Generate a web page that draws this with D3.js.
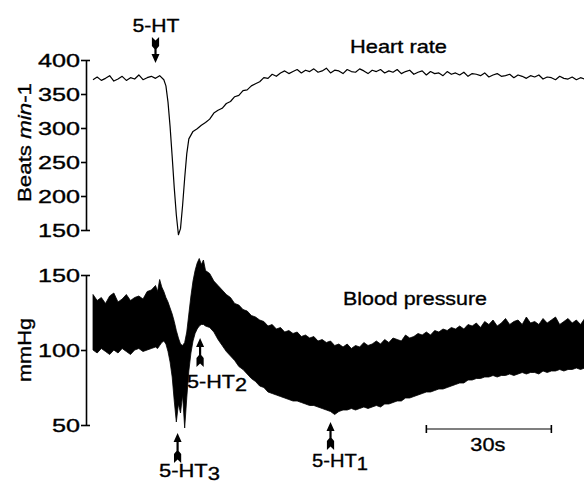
<!DOCTYPE html>
<html>
<head>
<meta charset="utf-8">
<script src="https://cdn.jsdelivr.net/npm/d3@7"></script>
<style>
html,body{margin:0;padding:0;background:#fff;}
svg{display:block;}
svg text{stroke:#000;stroke-width:0.35px;fill:#000;}
</style>
</head>
<body>
<script>
// ---------------- DATA ----------------
// Heart rate trace: [time (s), beats/min]
const heartRate = [
[0,371],[1,375],[2,370],[3,373],[4,377],[5,369],[6,372],[7,376],[8,370],[9,374],[10,372],[11,378],[12,371],[13,374],[14,376],[15,373],[16,377],[17,371],
[17.5,362],[18,338],[18.5,302],[19,258],[19.5,212],[20,172],[20.5,143],[21,152],[21.5,186],[22,226],[22.5,262],[23,284],
[24,295],[25,299],[26,304],[27,308],[28,313],[29,322],[30,326],[31,329],[32,336],[33,339],[34,346],[35,348],[36,355],[37,356],[38,362],[39,365],
[40,368],[41,374],[42,373],[43,379],[44,376],[45,381],[46,384],[47,380],[48,383],[49,386],
[50,381],[51,385],[52,383],[53,387],[54,382],[55,384],[56,388],[57,381],[58,385],[59,384],
[60,380],[61,386],[62,383],[63,382],[64,387],[65,384],[66,380],[67,385],[68,383],[69,386],
[70,381],[71,384],[72,382],[73,386],[74,380],[75,383],[76,385],[77,379],[78,382],[79,384],
[80,378],[81,383],[82,380],[83,381],[84,377],[85,383],[86,379],[87,381],[88,378],[89,382],
[90,376],[91,380],[92,379],[93,377],[94,381],[95,375],[96,378],[97,380],[98,376],[99,377],
[100,379],[101,374],[102,378],[103,376],[104,373],[105,377],[106,375],[107,378],[108,372],[109,375],
[110,374],[111,371],[112,376],[113,373],[114,372],[115,375],[116,371],[117,374],[118,372]
];

// Blood pressure envelope: [time (s), systolic mmHg, diastolic mmHg]
const bloodPressure = [
[0,137,100],[1,133,98],[2,135,101],[3,131,99],[4,136,97],[5,138,100],[6,132,98],[7,134,101],[8,137,99],[9,133,97],
[10,135,100],[11,136,101],[12,134,99],[13,139,100],[14,140,101],[15,143,102],[15.5,139,101],[16,147,103],[16.5,142,105],[17,139,106],
[17.5,135,104],[18,132,99],[18.5,128,92],[19,124,82],[19.5,119,66],[20,113,52],[20.5,108,64],[21,104,58],[21.5,103,70],[22,105,48],
[22.5,112,68],[23,124,86],[23.5,136,98],[24,146,106],[24.5,153,111],[25,158,114],[25.5,161,116],[26,157,117],[26.5,160,117],[27,153,116],
[28,151,115],[29,146,112],[30,143,107],[31,140,103],[32,137,99],[33,135,96],[34,131,93],[35,130,89],[36,127,87],[37,126,84],
[38,123,81],[39,122,79],[40,120,76],[41,119,75],[42,116,72],[43,117,71],[44,114,70],[45,115,69],[46,112,68],[47,113,67],
[48,111,66],[49,112,66],[50,109,65],[51,110,64],[52,108,63],[53,109,63],[54,106,62],[55,107,61],[56,105,60],[57,106,59],
[58,103,57],[59,104,59],[60,102,60],[61,104,60],[62,101,61],[63,103,60],[64,102,61],[65,105,62],[66,103,61],[67,104,62],
[68,106,63],[69,104,62],[70,107,64],[71,105,64],[72,108,65],[73,107,66],[74,106,66],[75,110,68],[76,108,68],[77,109,69],
[78,111,70],[79,110,71],[80,112,72],[81,110,72],[82,113,73],[83,112,74],[84,114,74],[85,113,75],[86,115,76],[87,114,77],
[88,116,78],[89,114,78],[90,117,80],[91,116,80],[92,118,81],[93,115,81],[94,119,82],[95,117,82],[96,120,83],[97,116,82],
[98,118,83],[99,121,83],[100,117,84],[101,119,83],[102,120,84],[103,117,85],[104,122,84],[105,118,85],[106,119,85],[107,117,84],
[108,121,86],[109,118,85],[110,120,86],[111,122,86],[112,117,87],[113,119,86],[114,121,87],[115,118,87],[116,120,88],[117,117,87],[118,121,88]
];

const hrTicks = [150, 200, 250, 300, 350, 400];
const bpTicks = [50, 100, 150];

// Injection markers
const markerLabels = ["5-HT", "5-HT", "5-HT", "5-HT"];
const markerSubs   = ["", "3", "2", "1"];
const markerTimes  = [15, 20.3, 25.7, 57];

// 30 s scale bar
const scaleBarStart = 80;
const scaleBarLength = 30;

// ---------------- CHART ----------------
const W = 584, H = 482;
const FONT = "'Liberation Sans', Arial, Helvetica, sans-serif";

const svg = d3.select("body").append("svg")
  .attr("width", W).attr("height", H)
  .style("font-family", FONT);

const x = d3.scaleLinear().domain([0, 118]).range([93, 584.7]);
const yHR = d3.scaleLinear().domain([150, 400]).range([230, 60]);
const yBP = d3.scaleLinear().domain([50, 150]).range([425, 275]);

function styleAxis(g, ticks) {
  g.select(".domain").attr("stroke", "#000").attr("stroke-width", 1.6);
  g.selectAll(".tick line").attr("stroke", "#000").attr("stroke-width", 1.6);
  g.selectAll(".tick text")
    .attr("font-family", FONT)
    .attr("font-size", 19)
    .attr("fill", "#000")
    .attr("textLength", d => String(d).length * 14)
    .attr("lengthAdjust", "spacingAndGlyphs");
  g.attr("font-family", null).attr("font-size", null);
  const first = d3.min(ticks), last = d3.max(ticks);
  g.selectAll(".tick").filter(d => d === first || d === last)
    .select("line").attr("x1", 4);
}

const gHR = svg.append("g").attr("transform", "translate(86,0)")
  .call(d3.axisLeft(yHR).tickValues(hrTicks).tickSize(5).tickSizeOuter(0).tickPadding(1));
styleAxis(gHR, hrTicks);

const gBP = svg.append("g").attr("transform", "translate(86,0)")
  .call(d3.axisLeft(yBP).tickValues(bpTicks).tickSize(5).tickSizeOuter(0).tickPadding(1));
styleAxis(gBP, bpTicks);

// Blood pressure band
svg.append("path")
  .datum(bloodPressure)
  .attr("fill", "#000")
  .attr("stroke", "#000")
  .attr("stroke-width", 0.8)
  .attr("d", d3.area()
    .x(d => x(d[0]))
    .y0(d => yBP(d[2]))
    .y1(d => yBP(d[1])));

// Heart rate line
svg.append("path")
  .datum(heartRate)
  .attr("fill", "none")
  .attr("stroke", "#000")
  .attr("stroke-width", 1.2)
  .attr("stroke-linejoin", "round")
  .attr("d", d3.line().x(d => x(d[0])).y(d => yHR(d[1])));

// Y axis titles
const t1 = svg.append("text")
  .attr("transform", "translate(30.5,142.5) rotate(-90)")
  .attr("text-anchor", "middle")
  .attr("font-size", 19)
  .attr("textLength", 119).attr("lengthAdjust", "spacingAndGlyphs");
t1.append("tspan").text("Beats ");
t1.append("tspan").attr("font-style", "italic").text("min");
t1.append("tspan").text("-1");

svg.append("text")
  .attr("transform", "translate(31,350) rotate(-90)")
  .attr("text-anchor", "middle")
  .attr("font-size", 19)
  .attr("textLength", 64).attr("lengthAdjust", "spacingAndGlyphs")
  .text("mmHg");

// Series titles
svg.append("text").attr("x", 350).attr("y", 53)
  .attr("font-size", 19).attr("textLength", 97).attr("lengthAdjust", "spacingAndGlyphs")
  .text("Heart rate");
svg.append("text").attr("x", 343).attr("y", 305)
  .attr("font-size", 19).attr("textLength", 144).attr("lengthAdjust", "spacingAndGlyphs")
  .text("Blood pressure");

// Arrow marker shape (tip at 0,0 pointing up)
function arrowPath(len) {
  return `M0,0 L4,9 L1.1,9 L1.1,${len-12} L3.6,${len-9} L3.6,${len} L0,${len-3.5} L-3.6,${len} L-3.6,${len-9} L-1.1,${len-12} L-1.1,9 L-4,9 Z`;
}
// layout for each marker: tip y, length, direction, label position
const markerLayout = [
  {tip: 63, len: 26, dir: -1, lx: 156, ly: 32, anchor: "middle", w: 47},
  {tip: 433, len: 30, dir: 1, lx: 159, ly: 477, anchor: "start", w: 61},
  {tip: 338, len: 29, dir: 1, lx: 187, ly: 388, anchor: "start", w: 60},
  {tip: 422, len: 28, dir: 1, lx: 312, ly: 467, anchor: "start", w: 56}
];
markerTimes.forEach((t, i) => {
  const L = markerLayout[i];
  svg.append("path")
    .attr("transform", `translate(${x(t)},${L.tip}) scale(1,${L.dir})`)
    .attr("d", arrowPath(L.len))
    .attr("fill", "#000");
  const txt = svg.append("text")
    .attr("x", L.lx).attr("y", L.ly)
    .attr("text-anchor", L.anchor)
    .attr("font-size", 19)
    .attr("textLength", L.w).attr("lengthAdjust", "spacingAndGlyphs");
  txt.append("tspan").text(markerLabels[i]);
  if (markerSubs[i]) txt.append("tspan").attr("dy", 2.5).text(markerSubs[i]);
});

// Scale bar
const sb0 = x(scaleBarStart), sb1 = x(scaleBarStart + scaleBarLength);
svg.append("line").attr("x1", sb0).attr("x2", sb1).attr("y1", 429).attr("y2", 429)
  .attr("stroke", "#555").attr("stroke-width", 1.6);
[sb0, sb1].forEach(px => svg.append("line").attr("x1", px).attr("x2", px)
  .attr("y1", 425).attr("y2", 433).attr("stroke", "#000").attr("stroke-width", 1.6));
svg.append("text").attr("x", (sb0 + sb1) / 2 - 1).attr("y", 451)
  .attr("text-anchor", "middle").attr("font-size", 19)
  .attr("textLength", 35).attr("lengthAdjust", "spacingAndGlyphs")
  .text(scaleBarLength + "s");
</script>
</body>
</html>
